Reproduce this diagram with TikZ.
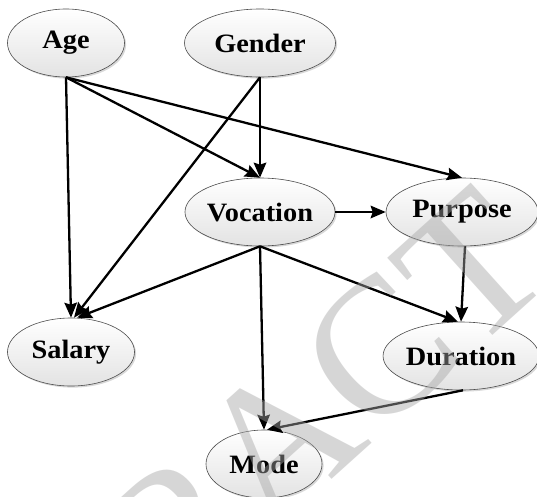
\documentclass[tikz,border=0pt]{standalone}
\usepackage{fontspec}
\newfontfamily\lblfont[FakeStretch=1.07]{Liberation Serif}
\newfontfamily\wmfont{Liberation Serif}
\usetikzlibrary{shapes.geometric,arrows.meta,shadows}
\tikzset{
  var/.style={ellipse, draw=black!70, line width=0.6pt, inner sep=0pt,
    minimum height=68pt, top color=white, bottom color=black!11,
    drop shadow={shadow xshift=1.6pt, shadow yshift=-1.6pt, opacity=0.25, fill=black!60},
    font=\lblfont\bfseries\fontsize{26.5}{30}\selectfont},
  link/.style={line width=2.3pt, -{Stealth[length=15pt, width=12.5pt, inset=2pt]}},
  wmark/.style={text=black!35, opacity=0.45, font=\wmfont\fontsize{195}{200}\selectfont, inner sep=0pt}
}
\begin{document}
\begin{tikzpicture}[x=1pt, y=-1pt]
\useasboundingbox[fill=white] (0,0) rectangle (537,496);

% variables
\node[var, minimum width=117pt] (age) at (66,43) {Age};
\node[var, minimum width=151pt] (gender) at (260,43) {Gender};
\node[var, minimum width=150pt] (vocation) at (260,212) {Vocation};
\node[var, minimum width=152pt] (purpose) at (462,212) {Purpose};
\node[var, minimum width=127pt] (salary) at (71,352) {Salary};
\node[var, minimum width=151pt] (duration) at (461,356) {Duration};
\node[var, minimum width=116pt] (mode) at (264,464) {Mode};

% dependencies
\draw[link] (age.south) -- (salary.north);
\draw[link] (age.south) -- (vocation.north);
\draw[link] (age.south) -- (purpose.north);
\draw[link] (gender.south) -- (vocation.north);
\draw[link] (gender.south) -- ([xshift=3pt]salary.north);
\draw[link] (vocation.east) -- (purpose.west);
\draw[link] (vocation.south) -- ([xshift=6pt]salary.north);
\draw[link] (vocation.south) -- ([xshift=-3pt]duration.north);
\draw[link] (vocation.south) -- (mode.north);
\draw[link] ([xshift=3pt]purpose.south) -- (duration.north);
\draw[link] ([xshift=2pt]duration.south) -- ([xshift=3pt]mode.north);

% watermark
\node[wmark, rotate=42] (wm) at (323,402) {RACT};
\end{tikzpicture}
\end{document}
